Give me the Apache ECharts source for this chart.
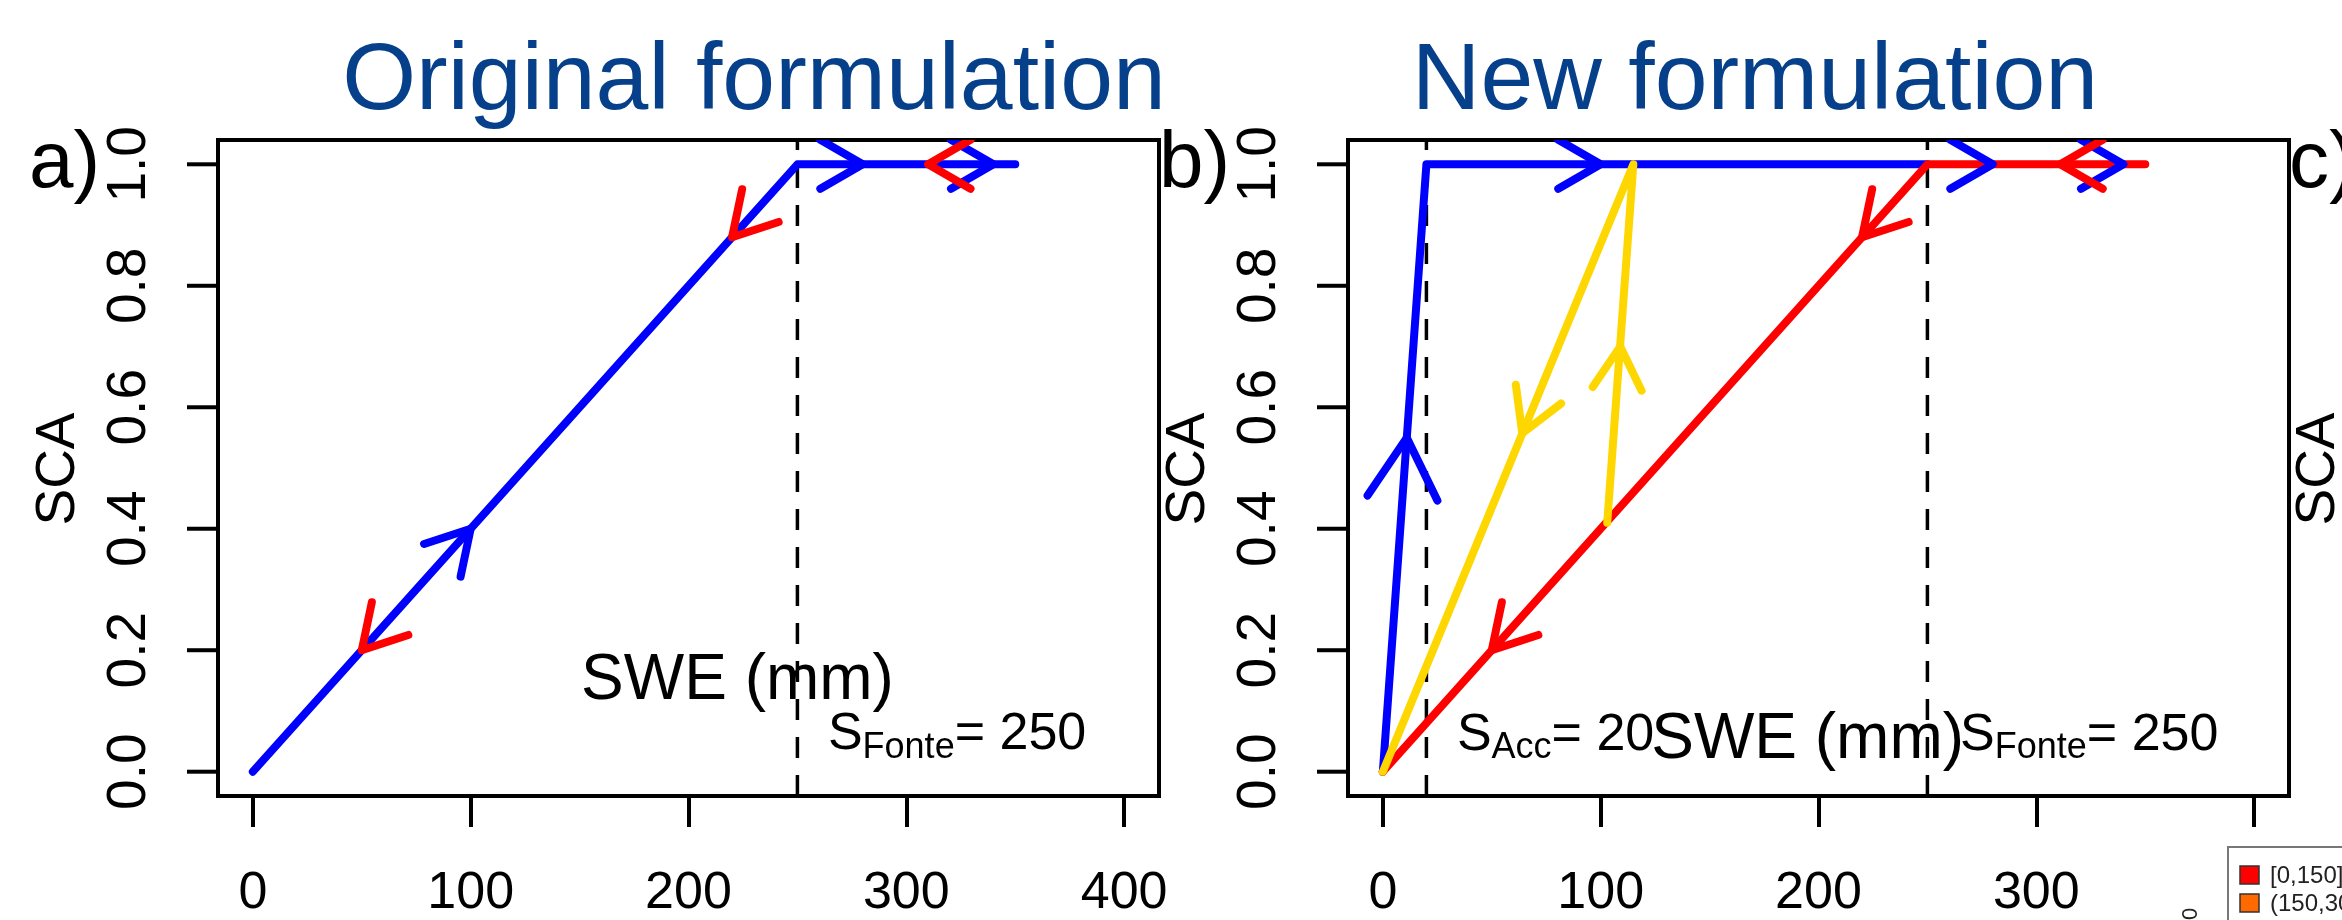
<!DOCTYPE html>
<html><head><meta charset="utf-8">
<script src="https://cdn.jsdelivr.net/npm/echarts@6/dist/echarts.min.js"></script>
<style>html,body{margin:0;padding:0;background:#fff}#c{width:2342px;height:920px}</style>
</head><body><div id="c"></div>
<script>
// ---------- data ----------
const xTicks = [0, 100, 200, 300, 400];
const xLabelsA = [0, 100, 200, 300, 400];
const xLabelsB = [0, 100, 200, 300];
const yTicks = [0, 0.2, 0.4, 0.6, 0.8, 1.0];
const sFonte = 250;
const sAcc = 20;
// panel a: original formulation
const blueA = [[0, 0], [250, 1], [350, 1]];
// arrows: [fromX, fromY, tipX, tipY]
const arrowsBlueA = [[0, 0, 100, 0.4], [250, 1, 280, 1], [310, 1, 340, 1]];
const arrowsRedA = [[100, 0.4, 50, 0.2], [250, 1, 220, 0.88], [350, 1, 310, 1]];
// panel b: new formulation
const blueB = [[0, 0], [20, 1], [250, 1]];
const redB = [[0, 0], [250, 1], [350, 1]];
const yellowB = [[103, 0.41], [115, 1], [0, 0]];
const arrowsBlueB = [[0, 0, 11, 0.55], [20, 1, 100, 1], [250, 1, 280, 1], [310, 1, 340, 1]];
const arrowsRedB = [[104, 0.416, 50, 0.2], [250, 1, 220, 0.88], [350, 1, 311, 1]];
const arrowsYellowB = [[115, 1, 64, 0.557], [103, 0.41, 109, 0.70]];
const legendLabels = ['[0,150]', '(150,300]'];

// ---------- styles ----------
const FONT = "'Liberation Sans', Arial, Helvetica, sans-serif";
const C = {blue: '#0000FF', red: '#FF0000', yellow: '#FFD700', title: '#06408A'};
const X_MIN = -16, X_MAX = 416, Y_MIN = -0.04, Y_MAX = 1.04;
const LW = 8;
const TICK_LEN = 31;

function xAxis(i, labels) {
  return {
    type: 'value', gridIndex: i, min: X_MIN, max: X_MAX, position: 'bottom',
    axisLine: {show: false, onZero: false}, splitLine: {show: false},
    axisTick: {show: true, customValues: xTicks, length: TICK_LEN, inside: false, lineStyle: {color: '#000', width: 4}},
    axisLabel: {show: true, customValues: labels, fontSize: 52, color: '#000', margin: 72, fontFamily: FONT}
  };
}
function yAxis(i) {
  return {
    type: 'value', gridIndex: i, min: Y_MIN, max: Y_MAX, position: 'left',
    axisLine: {show: false, onZero: false}, splitLine: {show: false},
    axisTick: {show: false},
    axisLabel: {show: true, customValues: yTicks, rotate: 90, fontSize: 55, color: '#000', margin: 61, fontFamily: FONT,
      formatter: v => Number(v).toFixed(1)}
  };
}
// y-axis ticks drawn outward from the left frame edge, positioned by the axis scale
function yTickSeries(i) {
  return {
    type: 'custom', xAxisIndex: i, yAxisIndex: i, clip: false, z: 2, silent: true, animation: false,
    data: yTicks.map(v => [X_MIN, v]),
    renderItem(params, api) {
      const p = api.coord([api.value(0), api.value(1)]);
      return {type: 'line', shape: {x1: p[0], y1: p[1], x2: p[0] - TICK_LEN, y2: p[1]},
        style: {stroke: '#000', lineWidth: 4}};
    }
  };
}
function lineSeries(i, data, color, z) {
  return {type: 'line', xAxisIndex: i, yAxisIndex: i, data: data, showSymbol: false, symbol: 'none',
    silent: true, z: z, animation: false,
    lineStyle: {color: color, width: LW, cap: 'round', join: 'round'}};
}
function dashSeries(i, x) {
  return {type: 'line', xAxisIndex: i, yAxisIndex: i, data: [[x, Y_MIN], [x, Y_MAX]], showSymbol: false, symbol: 'none',
    silent: true, z: 1, animation: false,
    lineStyle: {color: '#000', width: 3.5, type: [21, 17]}};
}
function arrowSeries(i, data, color, z, bigFirst) {
  return {
    type: 'custom', xAxisIndex: i, yAxisIndex: i, clip: true, z: z, silent: true, animation: false,
    data: data,
    renderItem(params, api) {
      const p0 = api.coord([api.value(0), api.value(1)]);
      const p1 = api.coord([api.value(2), api.value(3)]);
      const ang = Math.atan2(p0[1] - p1[1], p0[0] - p1[0]);
      const L = (bigFirst && params.dataIndex === 0) ? 70 : 49;
      const a = Math.PI / 6;
      const w1 = [p1[0] + L * Math.cos(ang + a), p1[1] + L * Math.sin(ang + a)];
      const w2 = [p1[0] + L * Math.cos(ang - a), p1[1] + L * Math.sin(ang - a)];
      return {type: 'polyline', shape: {points: [w1, p1, w2]},
        style: {stroke: color, lineWidth: LW, fill: null, lineCap: 'round', lineJoin: 'round'}};
    }
  };
}
const rich = {
  s: {fontSize: 52, fontFamily: FONT, color: '#000', lineHeight: 62},
  sub: {fontSize: 36, fontFamily: FONT, color: '#000', lineHeight: 36, verticalAlign: 'bottom'},
  big: {fontSize: 64, fontFamily: FONT, color: '#000', lineHeight: 62}
};
function textSeries(i, point, text, pos) {
  return {type: 'scatter', xAxisIndex: i, yAxisIndex: i, symbolSize: 0, silent: true, z: 8, animation: false,
    itemStyle: {opacity: 1},
    data: [point],
    label: {show: true, position: pos, distance: 0, formatter: text, color: '#000', opacity: 1, rich: rich}};
}

const series = [
  yTickSeries(0),
  dashSeries(0, sFonte),
  lineSeries(0, blueA, C.blue, 3),
  arrowSeries(0, arrowsBlueA, C.blue, 5, false),
  arrowSeries(0, arrowsRedA, C.red, 6, false),
  textSeries(0, [222.5, 0.148], '{big|SWE (mm)}', 'inside'),
  textSeries(0, [264, 0.061], '{s|S}{sub|Fonte}{s|= ' + sFonte + '}', 'right'),

  yTickSeries(1),
  dashSeries(1, sAcc),
  dashSeries(1, sFonte),
  lineSeries(1, blueB, C.blue, 3),
  lineSeries(1, redB, C.red, 4),
  lineSeries(1, yellowB, C.yellow, 4),
  arrowSeries(1, arrowsBlueB, C.blue, 5, true),
  arrowSeries(1, arrowsRedB, C.red, 6, false),
  arrowSeries(1, arrowsYellowB, C.yellow, 6, false),
  textSeries(1, [34, 0.06], '{s|S}{sub|Acc}{s|= ' + sAcc + '}', 'right'),
  textSeries(1, [195, 0.051], '{big|SWE (mm)}', 'inside'),
  textSeries(1, [265, 0.06], '{s|S}{sub|Fonte}{s|= ' + sFonte + '}', 'right')
];

const graphic = [
  {type: 'text', x: 754, y: 83, style: {text: 'Original formulation', font: '95px ' + FONT, fill: C.title, align: 'center', verticalAlign: 'middle'}},
  {type: 'text', x: 1755, y: 83, style: {text: 'New formulation', font: '95px ' + FONT, fill: C.title, align: 'center', verticalAlign: 'middle'}},
  {type: 'text', x: 29, y: 165, style: {text: 'a)', font: '80px ' + FONT, fill: '#000', align: 'left', verticalAlign: 'middle'}},
  {type: 'text', x: 1159, y: 165, style: {text: 'b)', font: '80px ' + FONT, fill: '#000', align: 'left', verticalAlign: 'middle'}},
  {type: 'text', x: 2289, y: 165, style: {text: 'c)', font: '80px ' + FONT, fill: '#000', align: 'left', verticalAlign: 'middle'}},
  {type: 'text', x: 59, y: 469, rotation: Math.PI / 2, style: {text: 'SCA', font: '55px ' + FONT, fill: '#000', align: 'center', verticalAlign: 'middle'}},
  {type: 'text', x: 1189, y: 469, rotation: Math.PI / 2, style: {text: 'SCA', font: '55px ' + FONT, fill: '#000', align: 'center', verticalAlign: 'middle'}},
  {type: 'text', x: 2319, y: 469, rotation: Math.PI / 2, style: {text: 'SCA', font: '55px ' + FONT, fill: '#000', align: 'center', verticalAlign: 'middle'}},
  {type: 'text', x: 2191, y: 914, rotation: Math.PI / 2, style: {text: '0', font: '22px ' + FONT, fill: '#222', align: 'center', verticalAlign: 'middle'}},
  {type: 'rect', shape: {x: 2228, y: 847, width: 200, height: 120}, style: {fill: '#fff', stroke: '#777', lineWidth: 2}},
  {type: 'rect', shape: {x: 2240, y: 866, width: 19, height: 18}, style: {fill: '#FF0000', stroke: '#333', lineWidth: 1.5}},
  {type: 'rect', shape: {x: 2240, y: 894, width: 19, height: 18}, style: {fill: '#FF6A00', stroke: '#333', lineWidth: 1.5}},
  {type: 'text', x: 2270, y: 876, style: {text: legendLabels[0], font: '24px ' + FONT, fill: '#222', align: 'left', verticalAlign: 'middle'}},
  {type: 'text', x: 2270, y: 904, style: {text: legendLabels[1], font: '24px ' + FONT, fill: '#222', align: 'left', verticalAlign: 'middle'}}
];

const chart = echarts.init(document.getElementById('c'), null, {renderer: 'canvas'});
chart.setOption({
  backgroundColor: '#fff',
  animation: false,
  grid: [
    {left: 218, top: 140, width: 941, height: 658, show: true, borderColor: '#000', borderWidth: 4, backgroundColor: 'transparent'},
    {left: 1348, top: 140, width: 941, height: 658, show: true, borderColor: '#000', borderWidth: 4, backgroundColor: 'transparent'}
  ],
  xAxis: [xAxis(0, xLabelsA), xAxis(1, xLabelsB)],
  yAxis: [yAxis(0), yAxis(1)],
  series: series,
  graphic: graphic
});
</script></body></html>
